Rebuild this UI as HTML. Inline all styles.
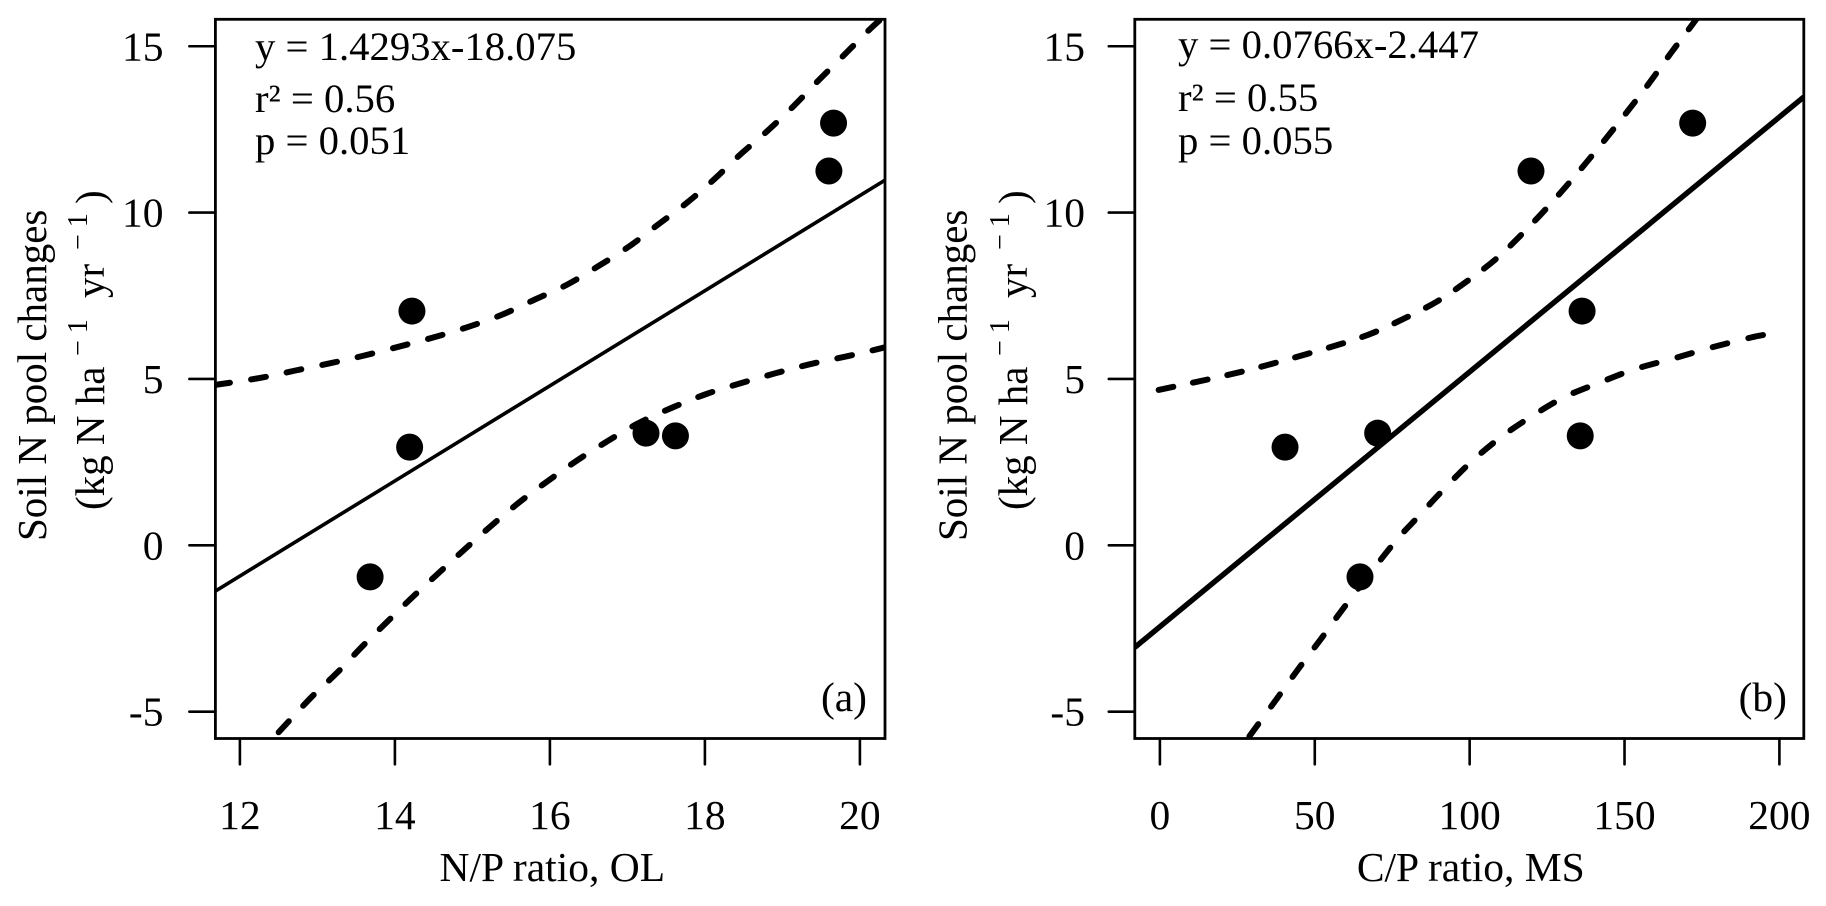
<!DOCTYPE html>
<html lang="en">
<head>
<meta charset="utf-8">
<title>Soil N pool changes vs nutrient ratios</title>
<style>
html,body{margin:0;padding:0;background:#fff;width:1826px;height:906px;overflow:hidden}
svg{display:block}
text{font-family:"Liberation Serif",serif;fill:#000;font-size:41.5px}
.note{font-size:40.7px}
.ytitle{font-size:41px}
.sup{font-size:28px}
</style>
</head>
<body>
<svg id="chart" xmlns="http://www.w3.org/2000/svg" width="1826" height="906" viewBox="0 0 1826 906">
<defs>
<clipPath id="clip-a"><rect x="215.4" y="19" width="669.6" height="719.5"/></clipPath>
<clipPath id="clip-b"><rect x="1134.8" y="19" width="669" height="719.5"/></clipPath>
</defs>
<g id="panel-a"></g>
<g id="panel-b"></g>

<g>
<text class="note" x="255" y="60">y = 1.4293x-18.075</text>
<text class="note" x="255" y="112">r² = 0.56</text>
<text class="note" x="255" y="154">p = 0.051</text>
</g>
<text x="867" y="711" text-anchor="end">(a)</text>
<text x="552.3" y="881" text-anchor="middle">N/P ratio, OL</text>
<g>
<text class="ytitle" transform="translate(46,541) rotate(-90)">Soil N pool changes</text>
<text class="ytitle" transform="translate(104,510) rotate(-90)">(kg N ha</text>
<text class="sup" transform="translate(87,356) rotate(-90)">− 1</text>
<text class="ytitle" transform="translate(104,298) rotate(-90)">yr</text>
<text class="sup" transform="translate(87,250) rotate(-90)">− 1</text>
<text class="ytitle" transform="translate(104,204) rotate(-90)">)</text>
</g>

<g>
<text class="note" x="1178" y="58">y = 0.0766x-2.447</text>
<text class="note" x="1178" y="111">r² = 0.55</text>
<text class="note" x="1178" y="154">p = 0.055</text>
</g>
<text x="1787" y="711" text-anchor="end">(b)</text>
<text x="1470.8" y="881" text-anchor="middle">C/P ratio, MS</text>
<g>
<text class="ytitle" transform="translate(966.5,541) rotate(-90)">Soil N pool changes</text>
<text class="ytitle" transform="translate(1027,510) rotate(-90)">(kg N ha</text>
<text class="sup" transform="translate(1009,356) rotate(-90)">− 1</text>
<text class="ytitle" transform="translate(1027,298) rotate(-90)">yr</text>
<text class="sup" transform="translate(1009,250) rotate(-90)">− 1</text>
<text class="ytitle" transform="translate(1027,204) rotate(-90)">)</text>
</g>
</svg>
<script>
// Shared y axis
const yTicks = [15, 10, 5, 0, -5];
const yTickLabels = ['15', '10', '5', '0', '-5'];

// Panel (a) data
const xTicksA = [12, 14, 16, 18, 20];
const xTickLabelsA = ['12', '14', '16', '18', '20'];
const pointsXA = [13.68, 14.19, 14.22, 17.24, 17.62, 19.6, 19.66];
const pointsYA = [-0.95, 2.95, 7.04, 3.37, 3.29, 11.25, 12.69];
const fitA = [1.4293, -18.075];
const upperXA = [11.68, 12.26, 12.71, 13.16, 13.58, 14.05, 14.5, 14.94, 15.38, 15.79, 16.21, 16.61, 17.02, 17.39, 17.77, 18.11, 18.44, 18.79, 19.14, 19.46, 19.78, 20.11, 20.25];
const upperYA = [4.82, 5.03, 5.25, 5.47, 5.69, 5.97, 6.25, 6.56, 6.93, 7.37, 7.82, 8.37, 8.98, 9.63, 10.3, 10.98, 11.71, 12.42, 13.19, 13.96, 14.7, 15.47, 15.77];
const lowerXA = [12.5, 12.92, 13.25, 13.57, 13.9, 14.23, 14.58, 14.91, 15.26, 15.62, 15.99, 16.35, 16.75, 17.15, 17.58, 18.01, 18.46, 18.91, 19.35, 19.81, 20.2, 20.35];
const lowerYA = [-5.62, -4.57, -3.84, -3.06, -2.3, -1.55, -0.8, -0.1, 0.62, 1.32, 1.96, 2.55, 3.14, 3.68, 4.14, 4.54, 4.87, 5.17, 5.44, 5.67, 5.88, 5.97];

// Panel (b) data
const xTicksB = [0, 50, 100, 150, 200];
const xTickLabelsB = ['0', '50', '100', '150', '200'];
const pointsXB = [40.4, 64.6, 70.3, 119.8, 135.7, 136.3, 172];
const pointsYB = [2.95, -0.95, 3.37, 11.25, 3.29, 7.04, 12.69];
const fitB = [0.0766, -2.447];
const upperXB = [-0.4, 26.5, 51.9, 67, 78.5, 89.5, 99.5, 108.8, 117.7, 126.3, 134, 142.3, 150, 157.7, 165, 171.8, 173.6];
const upperYB = [4.67, 5.22, 5.87, 6.32, 6.8, 7.33, 7.96, 8.63, 9.43, 10.28, 11.1, 12.03, 12.93, 13.86, 14.8, 15.64, 15.87];
const lowerXB = [28.9, 38.3, 45.3, 52.6, 59.6, 75, 83.5, 91.5, 100.4, 110.1, 119.9, 130.5, 141.4, 153.2, 165.6, 178.2, 191, 194.7];
const lowerYB = [-5.74, -4.54, -3.64, -2.74, -1.85, 0, 0.87, 1.67, 2.5, 3.25, 3.87, 4.45, 4.87, 5.29, 5.61, 5.95, 6.25, 6.32];

const NS = 'http://www.w3.org/2000/svg';
const yScale = v => 545.3 - v * 33.27;
const xScaleA = v => 239.9 + (v - 12) * 77.5;
const xScaleB = v => 1159.9 + v * 3.0975;
const xInvA = p => 12 + (p - 239.9) / 77.5;
const xInvB = p => (p - 1159.9) / 3.0975;

function mk(tag, attrs, parent) {
  const el = document.createElementNS(NS, tag);
  for (const k in attrs) el.setAttribute(k, attrs[k]);
  parent.appendChild(el);
  return el;
}

function smoothPath(xs, ys, xScale) {
  const p = xs.map((x, i) => [xScale(x), yScale(ys[i])]);
  let d = 'M' + p[0][0].toFixed(2) + ' ' + p[0][1].toFixed(2);
  for (let i = 0; i < p.length - 1; i++) {
    const a = p[Math.max(i - 1, 0)], b = p[i], c = p[i + 1], e = p[Math.min(i + 2, p.length - 1)];
    const c1x = b[0] + (c[0] - a[0]) / 6, c1y = b[1] + (c[1] - a[1]) / 6;
    const c2x = c[0] - (e[0] - b[0]) / 6, c2y = c[1] - (e[1] - b[1]) / 6;
    d += 'C' + [c1x, c1y, c2x, c2y, c[0], c[1]].map(n => n.toFixed(2)).join(' ');
  }
  return d;
}

// Keep the dash rhythm near 36px while finishing each curve on a full dash.
function fitDashes(path) {
  const dash = 15;
  const run = path.getTotalLength() - dash;
  const period = run / Math.round(run / 36);
  path.setAttribute('stroke-dasharray', dash + ' ' + (period - dash).toFixed(3));
}

function drawPanel(o) {
  const g = document.getElementById(o.gid);

  yTicks.forEach((t, i) => {
    const tick = mk('line', {x1: o.left - 26, x2: o.left, y1: yScale(t), y2: yScale(t), stroke: '#000', 'stroke-width': 2.6, 'stroke-linecap': 'round'}, g);
    
    
    const lab = mk('text', {x: o.yLabelX, y: yScale(t) + 14, 'text-anchor': 'end'}, g);
    lab.textContent = yTickLabels[i];
    
    
  });

  o.xTicks.forEach((t, i) => {
    const tick = mk('line', {x1: o.xScale(t), x2: o.xScale(t), y1: o.bottom, y2: 764.3, stroke: '#000', 'stroke-width': 2.6, 'stroke-linecap': 'round'}, g);
    
    
    const lab = mk('text', {x: o.xScale(t), y: 829, 'text-anchor': 'middle'}, g);
    lab.textContent = o.xLabels[i];
    
    
  });

  const clipped = mk('g', {'clip-path': 'url(#' + o.clip + ')'}, g);

  const xa = o.xInv(o.left), xb = o.xInv(o.right);
  const fit = mk('line', {
    x1: o.xScale(xa), y1: yScale(o.fit[0] * xa + o.fit[1]),
    x2: o.xScale(xb), y2: yScale(o.fit[0] * xb + o.fit[1]),
    stroke: '#000', 'stroke-width': o.fitWidth
  }, clipped);
  
  

  const up = mk('path', {d: smoothPath(o.upX, o.upY, o.xScale), fill: 'none', stroke: '#000', 'stroke-width': 6, 'stroke-linecap': 'round'}, clipped);
  
  
  fitDashes(up);

  const low = mk('path', {d: smoothPath(o.loX, o.loY, o.xScale), fill: 'none', stroke: '#000', 'stroke-width': 6, 'stroke-linecap': 'round'}, clipped);
  
  
  fitDashes(low);

  o.ptX.forEach((x, i) => {
    const c = mk('circle', {cx: o.xScale(x), cy: yScale(o.ptY[i]), r: 13.5, fill: '#000'}, clipped);
    
    
  });

  const frame = mk('rect', {x: o.left, y: 19.3, width: o.right - o.left, height: o.bottom - 19.3, fill: 'none', stroke: '#000', 'stroke-width': 2.8}, g);
  
  
}

drawPanel({
  gid: 'panel-a', clip: 'clip-a', left: 215.4, right: 885, bottom: 738.5, yLabelX: 163.5,
  xScale: xScaleA, xInv: xInvA, xTicks: xTicksA, xLabels: xTickLabelsA,
  fit: fitA, fitWidth: 3.6, upX: upperXA, upY: upperYA, loX: lowerXA, loY: lowerYA,
  ptX: pointsXA, ptY: pointsYA
});
drawPanel({
  gid: 'panel-b', clip: 'clip-b', left: 1134.8, right: 1803.8, bottom: 738.5, yLabelX: 1085,
  xScale: xScaleB, xInv: xInvB, xTicks: xTicksB, xLabels: xTickLabelsB,
  fit: fitB, fitWidth: 5.4, upX: upperXB, upY: upperYB, loX: lowerXB, loY: lowerYB,
  ptX: pointsXB, ptY: pointsYB
});
</script>
</body>
</html>
